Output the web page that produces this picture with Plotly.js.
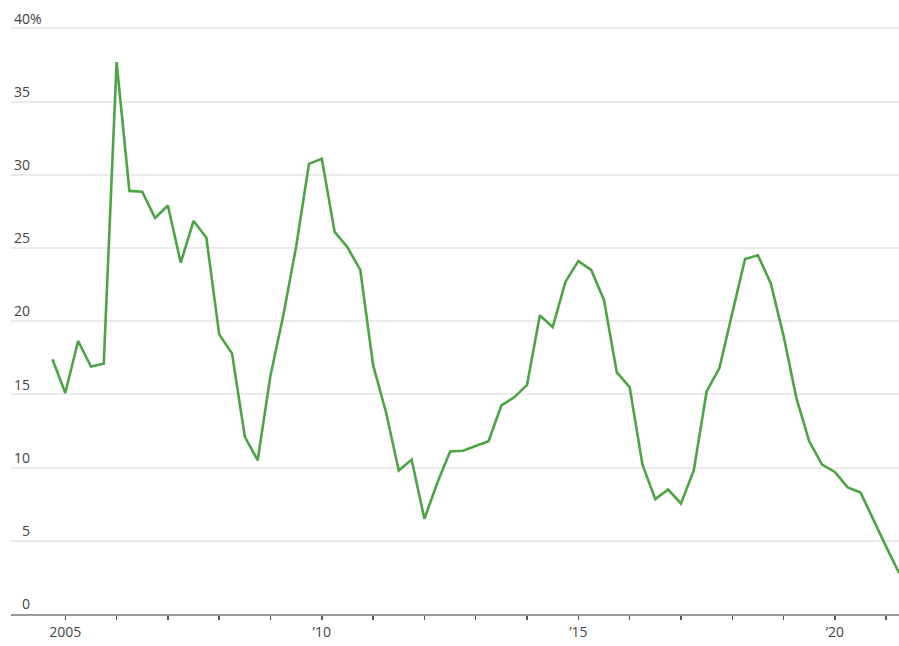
<!DOCTYPE html>
<html>
<head>
<meta charset="utf-8">
<script src="https://cdn.plot.ly/plotly-3.0.1.min.js"></script>
<style>
  html, body { margin: 0; padding: 0; background: #fff; }
  #chart { width: 899px; height: 646px; }
</style>
</head>
<body>
<div id="chart"></div>
<script>
// Quarter positions (decimal years)
const quarters = [
  2004.75,
  2005.00, 2005.25, 2005.50, 2005.75,
  2006.00, 2006.25, 2006.50, 2006.75,
  2007.00, 2007.25, 2007.50, 2007.75,
  2008.00, 2008.25, 2008.50, 2008.75,
  2009.00, 2009.25, 2009.50, 2009.75,
  2010.00, 2010.25, 2010.50, 2010.75,
  2011.00, 2011.25, 2011.50, 2011.75,
  2012.00, 2012.25, 2012.50, 2012.75,
  2013.00, 2013.25, 2013.50, 2013.75,
  2014.00, 2014.25, 2014.50, 2014.75,
  2015.00, 2015.25, 2015.50, 2015.75,
  2016.00, 2016.25, 2016.50, 2016.75,
  2017.00, 2017.25, 2017.50, 2017.75,
  2018.00, 2018.25, 2018.50, 2018.75,
  2019.00, 2019.25, 2019.50, 2019.75,
  2020.00, 2020.25, 2020.50, 2020.75,
  2021.00, 2021.25
];

// Percent values
const values = [
  17.4,
  15.1, 18.65, 16.9, 17.1,
  37.7, 28.9, 28.85, 27.05,
  27.9, 24.0, 26.85, 25.7,
  19.1, 17.8, 12.1, 10.5,
  16.3, 20.4, 25.1, 30.75,
  31.1, 26.1, 25.05, 23.5,
  17.0, 13.8, 9.8, 10.55,
  6.5, 8.95, 11.1, 11.15,
  11.5, 11.8, 14.25, 14.8,
  15.65, 20.4, 19.6, 22.7,
  24.1, 23.5, 21.45, 16.5,
  15.5, 10.2, 7.85, 8.5,
  7.55, 9.8, 15.2, 16.8,
  20.55, 24.25, 24.5, 22.6,
  19.0, 14.75, 11.8, 10.2,
  9.7, 8.65, 8.3, 6.4,
  4.6, 2.8
];

// Axis ticks
const xTickVals = [2005, 2006, 2007, 2008, 2009, 2010, 2011, 2012, 2013, 2014, 2015, 2016, 2017, 2018, 2019, 2020, 2021];
const xTickText = ['2005', '', '', '', '', '\u201910', '', '', '', '', '\u201915', '', '', '', '', '\u201920', ''];
const yTickVals = [0, 5, 10, 15, 20, 25, 30, 35, 40];
// single digits padded with a figure space so numbers line up on the right
const yTickText = ['\u20070', '\u20075', '10', '15', '20', '25', '30', '35', '40%'];

const trace = {
  x: quarters,
  y: values,
  type: 'scatter',
  mode: 'lines',
  line: { color: '#4ca444', width: 2.6, shape: 'linear' },
  hoverinfo: 'x+y'
};

const layout = {
  width: 899,
  height: 646,
  margin: { l: 11, r: 0, t: 0, b: 32, pad: 0 },
  paper_bgcolor: '#ffffff',
  plot_bgcolor: '#ffffff',
  showlegend: false,
  font: { family: 'Open Sans, DejaVu Sans, sans-serif', size: 14, color: '#444' },
  xaxis: {
    type: 'linear',
    range: [2003.942, 2021.25],
    tickmode: 'array',
    tickvals: xTickVals,
    ticktext: xTickText,
    ticks: 'outside',
    ticklen: 4,
    tickwidth: 1.5,
    tickcolor: '#555',
    showline: true,
    linecolor: '#9a9a9a',
    linewidth: 2,
    showgrid: false,
    zeroline: false,
    tickfont: { size: 14, color: '#444' },
    automargin: false,
    fixedrange: true
  },
  yaxis: {
    range: [0, 41.94],
    tickmode: 'array',
    tickvals: yTickVals,
    ticktext: yTickText,
    ticks: '',
    ticklabelposition: 'inside top',
    ticklabelstandoff: 0,
    showline: false,
    showgrid: true,
    gridcolor: '#ebebeb',
    gridwidth: 2,
    zeroline: false,
    tickfont: { size: 14, color: '#444' },
    automargin: false,
    fixedrange: true
  }
};

Plotly.newPlot('chart', [trace], layout, { displayModeBar: false, staticPlot: true });
</script>
</body>
</html>
